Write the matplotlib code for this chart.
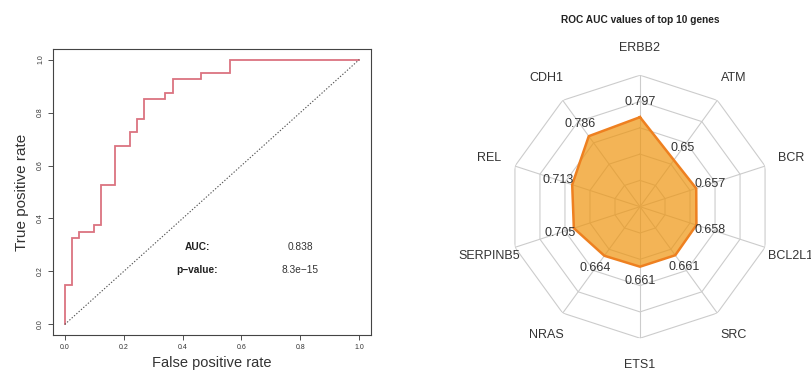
import numpy as np
import matplotlib
matplotlib.use("Agg")
import matplotlib.pyplot as plt

plt.rcParams['font.family'] = ['Liberation Sans', 'DejaVu Sans']

# ROC curve (step points)
fpr = [0.0, 0.0, 0.024, 0.024, 0.049, 0.049, 0.098, 0.098, 0.122, 0.122,
       0.171, 0.171, 0.220, 0.220, 0.244, 0.244, 0.268, 0.268, 0.341, 0.341,
       0.366, 0.366, 0.463, 0.463, 0.561, 0.561, 1.0]
tpr = [0.0, 0.15, 0.15, 0.325, 0.325, 0.35, 0.35, 0.375, 0.375, 0.525,
       0.525, 0.675, 0.675, 0.725, 0.725, 0.775, 0.775, 0.85, 0.85, 0.875,
       0.875, 0.925, 0.925, 0.95, 0.95, 1.0, 1.0]
auc_text = "0.838"
pval_text = "8.3e\u221215"
roc_ticks = [0.0, 0.2, 0.4, 0.6, 0.8, 1.0]

# Radar chart data
genes = ["ERBB2", "ATM", "BCR", "BCL2L1", "SRC", "ETS1", "NRAS",
         "SERPINB5", "REL", "CDH1"]
auc_values = [0.797, 0.65, 0.657, 0.658, 0.661, 0.661, 0.664, 0.705, 0.713, 0.786]
r_min, r_max = 0.385, 0.99
n_rings = 5

W, H = 812, 374
fig = plt.figure(figsize=(W / 100, H / 100), dpi=100)
fig.patch.set_facecolor("white")

# ---------------- ROC panel ----------------
ax = fig.add_axes([53 / W, 1 - 335 / H, (371 - 53) / W, (335 - 49) / H])
ax.plot(fpr, tpr, color="#db7380", lw=1.3, solid_joinstyle="miter")
ax.plot([0, 1], [0, 1], color="#555555", lw=0.8, linestyle=(0, (1.2, 1.6)))
ax.set_xlim(-0.04, 1.04)
ax.set_ylim(-0.04, 1.04)
ax.set_xticks(roc_ticks)
ax.set_yticks(roc_ticks)
ax.set_xticklabels([f"{t:.1f}" for t in roc_ticks])
ax.set_yticklabels([f"{t:.1f}" for t in roc_ticks], rotation=90, va="center")
ax.tick_params(length=3.5, width=0.6, labelsize=5, colors="#333333", pad=3)
for s in ax.spines.values():
    s.set_linewidth(0.8)
    s.set_color("#444444")
ax.text(-0.097, 0.5, "True positive rate", transform=ax.transAxes, rotation=90,
        ha="center", va="center", fontsize=11, color="#333333")
ax.text(0.5, -0.098, "False positive rate", transform=ax.transAxes,
        ha="center", va="center", fontsize=10.5, color="#333333")
ax.text(0.45, 0.294, "AUC:", ha="center", va="center", fontsize=7.3,
        fontweight="bold", color="#222222")
ax.text(0.80, 0.294, auc_text, ha="center", va="center", fontsize=7.3, color="#333333")
ax.text(0.45, 0.205, "p\u2212value:", ha="center", va="center", fontsize=7.3,
        fontweight="bold", color="#222222")
ax.text(0.80, 0.205, pval_text, ha="center", va="center", fontsize=7.3, color="#333333")

# ---------------- Radar panel ----------------
cx, cy, rad = 640, 206.7, 131.5
pax = fig.add_axes([(cx - rad) / W, (H - cy - rad) / H, 2 * rad / W, 2 * rad / H],
                   projection="polar")
pax.set_theta_zero_location("N")
pax.set_theta_direction(-1)
pax.set_ylim(r_min, r_max)
pax.grid(False)
pax.set_xticks([])
pax.set_yticks([])
pax.spines["polar"].set_visible(False)
pax.patch.set_alpha(0)

n = len(genes)
angles = np.arange(n) * 2 * np.pi / n
closed = np.append(angles, angles[0])

grid_kw = dict(color="#cccccc", lw=0.8, zorder=1)
for k in range(1, n_rings + 1):
    lvl = r_min + (r_max - r_min) * k / n_rings
    pax.plot(closed, [lvl] * (n + 1), **grid_kw)
for a in angles:
    pax.plot([a, a], [r_min, r_max], **grid_kw)

vals = np.append(auc_values, auc_values[0])
pax.fill(closed, vals, color="#ee950f", alpha=0.7, zorder=2, lw=0)
pax.plot(closed, vals, color="#ee8020", lw=1.8, zorder=3)

for a, g in zip(angles, genes):
    pax.text(a, 1.115, g, ha="center", va="center", fontsize=9, color="#333333",
             clip_on=False)
for a, v in zip(angles, auc_values):
    pax.text(a, v + 0.068, f"{v:g}", ha="center", va="center", fontsize=9,
             color="#333333", zorder=4, clip_on=False)

fig.text(cx / W, 1 - 20 / H, "ROC AUC values of top 10 genes", ha="center",
         va="center", fontsize=7.3, fontweight="bold", color="#222222")

fig.savefig("out.png", dpi=100, facecolor="white")
